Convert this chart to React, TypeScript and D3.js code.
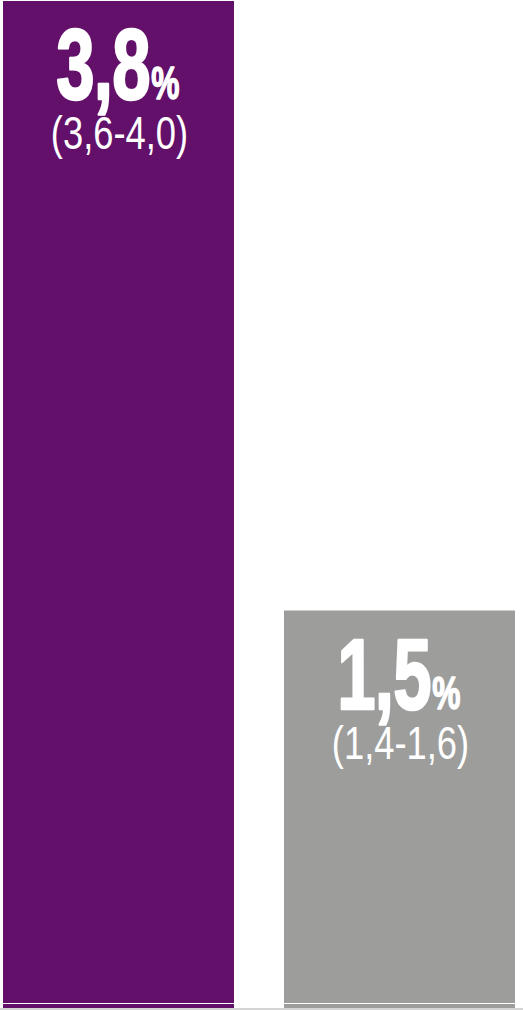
import React from 'react';
import * as d3 from 'd3';

const categories = ['a', 'b'];
const values = [3.8, 1.5];
const lows = [3.6, 1.4];
const highs = [4.0, 1.6];
const colors = ['#63106a', '#9d9d9c'];

const W = 523;
const H = 1010;

const fmt = (v: number) => v.toFixed(1).replace('.', ',');

const App: React.FC = () => {
  const x = d3.scaleBand<string>()
    .domain(categories)
    .range([3, 515])
    .paddingInner(0.178)
    .paddingOuter(0);

  const y = d3.scaleLinear()
    .domain([0, 3.8])
    .range([1008, 1]);

  return (
    <svg width={W} height={H} style={{ position: 'absolute', left: 0, top: 0 }}>
      <rect width={W} height={H} fill="#fff" />
      {categories.map((c, i) => {
        const bx = x(c) as number;
        const cx = bx + x.bandwidth() / 2;
        const top = y(values[i]);
        return (
          <g key={c}>
            <rect x={bx} y={top} width={x.bandwidth()} height={y(0) - top} fill={colors[i]} />
            {/* main value, condensed + heavy */}
            <g transform={`translate(${cx - 1},${top + 98}) scale(0.69,1)`}>
              <text
                textAnchor="middle"
                fill="#fff"
                stroke="#fff"
                strokeWidth={2.5}
                strokeLinejoin="round"
                fontFamily="'Liberation Sans', Arial, sans-serif"
                fontWeight="bold"
                letterSpacing={-1}
              >
                <tspan fontSize={100}>{fmt(values[i])}</tspan>
                <tspan fontSize={46} dx={2} strokeWidth={1.5}>%</tspan>
              </text>
            </g>
            {/* interval */}
            <g transform={`translate(${cx + 1},${top + 148}) scale(0.79,1)`}>
              <text
                textAnchor="middle"
                fill="#fff"
                fontFamily="'Liberation Sans', Arial, sans-serif"
                fontSize={46}
              >
                {`(${fmt(lows[i])}-${fmt(highs[i])})`}
              </text>
            </g>
          </g>
        );
      })}
      <line x1={0} x2={W} y1={1003.5} y2={1003.5} stroke="#fff" strokeWidth={1} />
      <line x1={0} x2={W} y1={1009} y2={1009} stroke="#d4d4d4" strokeWidth={2} />
    </svg>
  );
};

export default App;
